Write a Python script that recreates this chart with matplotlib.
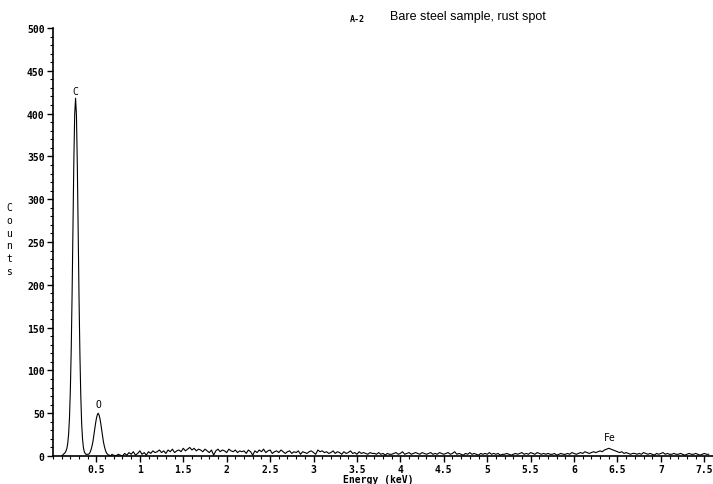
import numpy as np
import matplotlib
matplotlib.use("Agg")
from matplotlib import pyplot as plt
from matplotlib.ticker import MultipleLocator

# fine channels over the C and O peaks (0.10 .. 0.69 keV, step 0.01)
peak_energy = np.round(np.arange(0.10, 0.695, 0.01), 3)
peak_counts = [
    0, 1, 2, 3, 4, 6, 9, 15, 26, 45,
    78, 125, 190, 268, 345, 400, 418, 398, 340, 262,
    183, 118, 70, 38, 20, 10, 5, 3, 2, 2,
    2, 2, 3, 5, 8, 12, 17, 24, 31, 38,
    44, 48, 50, 48, 44, 38, 31, 24, 17, 12,
    8, 5, 3, 2, 1, 1, 0, 1, 2, 1,
]

# background channels (0.70 .. 7.55 keV, step 0.025)
bg_energy = np.round(np.linspace(0.70, 7.55, 275), 3)
bg_counts = [
    1, 0, 2, 1, 0, 3, 1, 4, 2, 5, 1, 3, 6, 2, 4, 1, 5, 3, 6, 4,
    5, 7, 4, 6, 3, 7, 5, 8, 4, 6, 7, 5, 9, 6, 8, 10, 7, 9, 6, 8,
    7, 5, 8, 6, 4, 7, 1, 6, 8, 5, 7, 6, 4, 8, 6, 5, 7, 4, 6, 5,
    6, 3, 7, 5, 1, 6, 4, 7, 5, 8, 4, 6, 7, 3, 5, 6, 4, 7, 5, 3,
    5, 6, 3, 5, 4, 6, 2, 5, 4, 3, 5, 6, 4, 2, 7, 5, 6, 4, 5, 3,
    4, 6, 3, 5, 4, 2, 5, 3, 4, 6, 3, 4, 2, 5, 3, 4, 3, 2, 4, 3,
    3, 2, 4, 2, 3, 1, 3, 2, 2, 3, 4, 2, 3, 5, 2, 3, 4, 2, 3, 4,
    3, 2, 4, 3, 2, 3, 4, 2, 3, 2, 4, 3, 2, 3, 4, 2, 3, 5, 2, 3,
    2, 1, 3, 2, 4, 2, 3, 2, 1, 3, 2, 3, 2, 4, 2, 3, 2, 3, 1, 2,
    2, 3, 2, 1, 2, 3, 2, 3, 4, 2, 3, 2, 4, 3, 2, 4, 3, 2, 3, 2,
    3, 2, 2, 3, 1, 2, 3, 2, 2, 3, 2, 4, 3, 2, 3, 4, 3, 5, 4, 3,
    4, 5, 4, 5, 6, 5, 7, 8, 9, 8, 7, 6, 5, 4, 5, 3, 4, 3, 2, 3,
    3, 2, 3, 2, 4, 3, 2, 3, 2, 1, 3, 2, 3, 4, 2, 3, 2, 2, 3, 2,
    2, 3, 2, 1, 2, 3, 2, 2, 3, 2, 1, 2, 3, 2, 2,
]

peak_labels = ["C", "O", "Fe"]
label_energy = [0.26, 0.52, 6.41]
label_counts = [421, 55, 16]

energy = np.concatenate([peak_energy, bg_energy])
counts = np.array(peak_counts + bg_counts)

tick_font = "DejaVu Sans Mono"

fig = plt.figure(figsize=(7.13, 4.85), dpi=100)
ax = fig.add_axes([53 / 713, 28 / 485, 1 - 53 / 713, 428 / 485])

ax.plot(energy, counts, color="black", lw=0.8)

ax.set_xlim(0, 7.6)
ax.set_ylim(0, 500)
ax.spines["top"].set_visible(False)
ax.spines["right"].set_visible(False)
for s in ("left", "bottom"):
    ax.spines[s].set_linewidth(1.2)

ax.xaxis.set_major_locator(MultipleLocator(0.5))
ax.xaxis.set_minor_locator(MultipleLocator(0.1))
ax.yaxis.set_major_locator(MultipleLocator(50))
ax.yaxis.set_minor_locator(MultipleLocator(10))
ax.tick_params(which="major", length=4, width=1, labelsize=7, pad=2)
ax.tick_params(which="minor", length=2, width=0.8)

ax.set_xticks(np.arange(0.5, 7.51, 0.5))
ax.set_xticklabels(["0.5", "1", "1.5", "2", "2.5", "3", "3.5", "4", "4.5",
                    "5", "5.5", "6", "6.5", "7", "7.5"])
for lbl in ax.get_xticklabels() + ax.get_yticklabels():
    lbl.set_fontfamily(tick_font)
    lbl.set_fontweight("bold")

for name, x, y in zip(peak_labels, label_energy, label_counts):
    ax.text(x, y, name, ha="center", va="bottom", fontsize=7,
            fontfamily=tick_font)

fig.text(378 / 713, 1 - 480 / 485, "Energy (keV)", ha="center", va="center",
         fontsize=7, fontfamily=tick_font, fontweight="bold")
fig.text(9 / 713, 1 - 240 / 485, "C\no\nu\nn\nt\ns", ha="center", va="center",
         fontsize=7, fontfamily=tick_font, linespacing=1.35)

fig.text(357 / 713, 1 - 19 / 485, "A-2", ha="center", va="center",
         fontsize=6, fontfamily=tick_font, fontweight="bold")
fig.text(390 / 713, 1 - 17 / 485, "Bare steel sample, rust spot", ha="left",
         va="center", fontsize=9, fontfamily="Liberation Sans")

fig.savefig("out.png", dpi=100)
